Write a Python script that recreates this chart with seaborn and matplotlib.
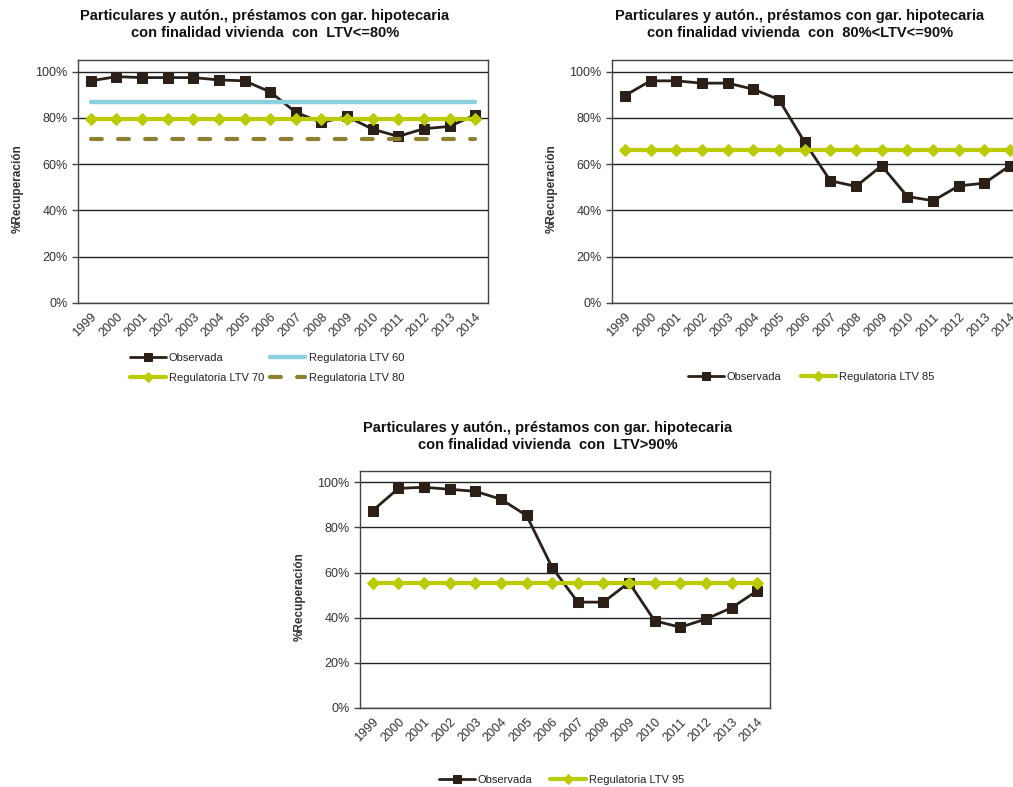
import numpy as np
import pandas as pd
import matplotlib
matplotlib.use('Agg')
import matplotlib.pyplot as plt
import matplotlib.transforms as mtransforms
import seaborn as sns
from matplotlib.ticker import PercentFormatter

# ── DATA ─────────────────────────────────────────────────────────────────────
years = [str(y) for y in range(1999, 2015)]

obs_ltv80 = [0.96, 0.978, 0.974, 0.974, 0.974, 0.964, 0.96, 0.912,
             0.824, 0.78, 0.806, 0.751, 0.72, 0.753, 0.763, 0.813]
reg_ltv60 = [0.868] * 16
reg_ltv70 = [0.797] * 16
reg_ltv80 = [0.708] * 16

obs_ltv90 = [0.896, 0.96, 0.96, 0.95, 0.95, 0.924, 0.879, 0.695,
             0.528, 0.504, 0.593, 0.46, 0.442, 0.506, 0.518, 0.594]
reg_ltv85 = [0.662] * 16

obs_ltvgt90 = [0.875, 0.973, 0.978, 0.969, 0.96, 0.925, 0.853, 0.622,
               0.469, 0.469, 0.556, 0.386, 0.358, 0.394, 0.444, 0.519]
reg_ltv95 = [0.556] * 16

titles = [
    "Particulares y autón., préstamos con gar. hipotecaria\ncon finalidad vivienda  con  LTV<=80%",
    "Particulares y autón., préstamos con gar. hipotecaria\ncon finalidad vivienda  con  80%<LTV<=90%",
    "Particulares y autón., préstamos con gar. hipotecaria\ncon finalidad vivienda  con  LTV>90%",
]

# ── STYLE ────────────────────────────────────────────────────────────────────
sns.set_style("white")
plt.rcParams['font.family'] = ['Liberation Sans', 'DejaVu Sans']

BROWN = "#2b2018"
BLUE = "#8ccfdf"
GREEN = "#bccb00"
OLIVE = "#8d8030"
TXT = "#333333"

styles = {
    "Observada":          dict(color=BROWN, lw=2, marker="s", ms=6.5, mec=BROWN, mfc=BROWN),
    "Regulatoria LTV 60": dict(color=BLUE, lw=3.2, solid_capstyle="round"),
    "Regulatoria LTV 70": dict(color=GREEN, lw=3, marker="D", ms=6, mec=GREEN, mfc=GREEN),
    "Regulatoria LTV 80": dict(color=OLIVE, lw=3, ls=(0, (2.6, 3.9)), dash_capstyle="round"),
    "Regulatoria LTV 85": dict(color=GREEN, lw=3, marker="D", ms=6, mec=GREEN, mfc=GREEN),
    "Regulatoria LTV 95": dict(color=GREEN, lw=3, marker="D", ms=6, mec=GREEN, mfc=GREEN),
}

W, H = 1013, 787
fig = plt.figure(figsize=(W / 100, H / 100), dpi=100)
fig.patch.set_facecolor("white")


def px_axes(left, right, top, bottom):
    return fig.add_axes([left / W, 1 - bottom / H, (right - left) / W, (bottom - top) / H])


def draw_panel(ax, series, title, title_x, title_y, ylab_x, leg_x, leg_y, colsp, order):
    x = np.arange(len(years))
    handles = {}
    for name, vals in series.items():
        df = pd.DataFrame({"x": x, "y": vals})
        st = dict(styles[name])
        sns.lineplot(data=df, x="x", y="y", ax=ax, color=st.pop("color"), lw=st.pop("lw"),
                     label=name, legend=False, **st)
        handles[name] = ax.get_lines()[-1]
    ax.set_xlim(-0.5, len(years) - 0.5)
    ax.set_ylim(0, 1.05)
    ax.set_yticks(np.arange(0, 1.01, 0.2))
    ax.yaxis.set_major_formatter(PercentFormatter(1.0, decimals=0))
    ax.set_xticks(x)
    ax.set_xticklabels(years, rotation=45, ha="right", rotation_mode="anchor",
                       fontsize=9, color=TXT)
    shift = mtransforms.ScaledTranslation(-4 / 100, 0, fig.dpi_scale_trans)
    for lab in ax.get_xticklabels():
        lab.set_transform(lab.get_transform() + shift)
    ax.set_xticks(np.arange(-0.5, len(years), 1), minor=True)
    ax.tick_params(axis="x", which="major", length=0, pad=6)
    ax.tick_params(axis="x", which="minor", length=4, width=1, color="#444444", direction="out")
    ax.tick_params(axis="y", length=4, width=1, color="#444444", labelsize=9, labelcolor=TXT,
                   direction="out", left=True)
    ax.grid(axis="y", color="#222222", lw=1)
    ax.set_axisbelow(True)
    for sp in ax.spines.values():
        sp.set_color("#444444")
        sp.set_linewidth(1)
    ax.set_xlabel("")
    ax.set_ylabel("")
    fig.text(title_x / W, 1 - title_y / H, title, ha="center", va="top", fontsize=10.5,
             fontweight="bold", color="#111111", linespacing=1.25)
    bb = ax.get_position()
    fig.text(ylab_x / W, bb.y0 + bb.height * 0.47, "%Recuperación", rotation=90,
             ha="center", va="center", fontsize=8.5, fontweight="bold", color=TXT)
    fig.legend(handles=[handles[n] for n in order], labels=order, loc="center left",
               bbox_to_anchor=(leg_x / W, 1 - leg_y / H), ncol=2, frameon=False,
               fontsize=8, handlelength=3.2, handletextpad=0.3, markerscale=0.8,
               columnspacing=colsp, labelspacing=0.95, borderpad=0, borderaxespad=0,
               labelcolor="#222222")


# ── PANEL 1 ──────────────────────────────────────────────────────────────────
ax1 = px_axes(78, 488, 60, 303)
draw_panel(ax1, {"Observada": obs_ltv80, "Regulatoria LTV 60": reg_ltv60,
                 "Regulatoria LTV 70": reg_ltv70, "Regulatoria LTV 80": reg_ltv80},
           titles[0], 265, 9, 18, 130, 368, 0.5,
           ["Observada", "Regulatoria LTV 70", "Regulatoria LTV 60", "Regulatoria LTV 80"])

# ── PANEL 2 ──────────────────────────────────────────────────────────────────
ax2 = px_axes(612, 1023, 60, 303)
draw_panel(ax2, {"Observada": obs_ltv90, "Regulatoria LTV 85": reg_ltv85},
           titles[1], 800, 9, 552, 688, 377, 1.7,
           ["Observada", "Regulatoria LTV 85"])

# ── PANEL 3 ──────────────────────────────────────────────────────────────────
ax3 = px_axes(360, 770, 471, 708)
draw_panel(ax3, {"Observada": obs_ltvgt90, "Regulatoria LTV 95": reg_ltv95},
           titles[2], 548, 421, 300, 439, 780, 1.6,
           ["Observada", "Regulatoria LTV 95"])

plt.savefig("out.png", dpi=100)
plt.close()
